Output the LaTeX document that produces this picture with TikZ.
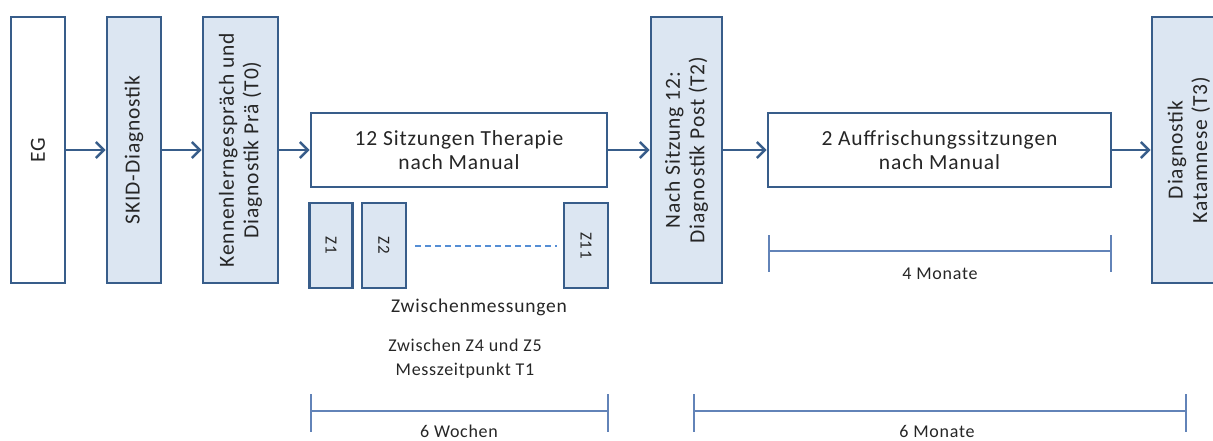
\documentclass[tikz,border=0pt]{standalone}
\usepackage{fontspec}
\setmainfont{Carlito}[LetterSpace=4]
\usetikzlibrary{arrows.meta}
\definecolor{bordc}{HTML}{385D8A}
\definecolor{fillc}{HTML}{DCE6F2}
\definecolor{brc}{HTML}{6283B8}
\definecolor{dashc}{HTML}{558ED5}
\definecolor{txtc}{HTML}{262626}
\tikzset{
  boxbase/.style={draw=bordc, line width=2.6pt, inner sep=0pt, text=txtc, align=center},
  vbox/.style={boxbase, fill=fillc, rotate=90, minimum height=#1},
  vbox/.default=54pt,
  hbox/.style={boxbase, fill=white, minimum width=#1, minimum height=74pt},
  zbox/.style={boxbase, fill=fillc, rotate=-90, minimum width=85pt, minimum height=#1},
  bigtxt/.style={font=\fontsize{21.5}{24.5}\selectfont},
  midtxt/.style={font=\fontsize{19.5}{22}\selectfont},
  smtxt/.style={font=\fontsize{18}{24}\selectfont},
  ztxt/.style={font=\fontsize{17}{20}\selectfont},
  flow/.style={draw=bordc, line width=2.5pt, -{Straight Barb[length=8pt,width=16pt,line width=2.5pt]}},
  bracketline/.style={draw=brc, line width=1.8pt},
  dashline/.style={draw=dashc, line width=1.8pt, dash pattern=on 6pt off 4pt}
}
\begin{document}
\begin{tikzpicture}[x=1pt,y=-1pt]
\useasboundingbox (0,0) rectangle (1213,441);
% vertical boxes
\node[vbox, fill=white, minimum width=266pt, bigtxt] (eg) at (38,150) {EG};
\node[vbox, minimum width=266pt, bigtxt] (skid) at (134,150) {SKID-Diagnostik};
\node[vbox=75pt, minimum width=266pt, bigtxt] (t0) at (240.5,150) {Kennenlerngespräch und\\Diagnostik Prä (T0)};
\node[hbox=296pt, bigtxt] (ther) at (459,150) {12 Sitzungen Therapie\\nach Manual};
\node[vbox=71pt, minimum width=266pt, bigtxt] (t2) at (686.5,150) {Nach Sitzung 12:\\Diagnostik Post (T2)};
\node[hbox=343pt, bigtxt] (auf) at (939.5,150) {2 Auffrischungssitzungen\\nach Manual};
\node[vbox=74pt, minimum width=266pt, bigtxt] (t3) at (1189,150) {Diagnostik\\Katamnese (T3)};
% arrows
\draw[flow] (eg) -- (skid);
\draw[flow] (skid) -- (t0);
\draw[flow] (t0) -- (ther);
\draw[flow] (ther) -- (t2);
\draw[flow] (t2) -- (auf);
\draw[flow] (auf) -- (t3);
% Z boxes
\node[zbox=43pt, ztxt] (z1) at (331,245.5) {Z1};
\node[zbox=44pt, ztxt] (z2) at (384,245.5) {Z2};
\node[zbox=44pt, ztxt] (z11) at (586,245.5) {Z11};
\coordinate (da) at (415,246);
\coordinate (db) at (557,246);
\draw[dashline] (da) -- (db);
\node[midtxt, text=txtc] (zm) at (479,307) {Zwischenmessungen};
\node[smtxt, text=txtc, align=center] (t1) at (465,359) {Zwischen Z4 und Z5\\Messzeitpunkt T1};
% 4 Monate
\coordinate (m4a) at (769,251);
\coordinate (m4b) at (1111,251);
\draw[bracketline] (m4a) -- (m4b);
\draw[bracketline] (769,235) -- (769,272);
\draw[bracketline] (1111,235) -- (1111,272);
\node[smtxt, text=txtc] (m4) at (940,274) {4 Monate};
% 6 Wochen
\coordinate (w6a) at (311,411);
\coordinate (w6b) at (608,411);
\draw[bracketline] (w6a) -- (w6b);
\draw[bracketline] (311,394) -- (311,432);
\draw[bracketline] (608,394) -- (608,432);
\node[smtxt, text=txtc, anchor=base, inner sep=1pt] (w6) at (459,437) {6 Wochen};
% 6 Monate
\coordinate (mo6a) at (694,411);
\coordinate (mo6b) at (1186,411);
\draw[bracketline] (mo6a) -- (mo6b);
\draw[bracketline] (694,394) -- (694,432);
\draw[bracketline] (1186,394) -- (1186,432);
\node[smtxt, text=txtc, anchor=base, inner sep=1pt] (mo6) at (937,437) {6 Monate};
\end{tikzpicture}
\end{document}
